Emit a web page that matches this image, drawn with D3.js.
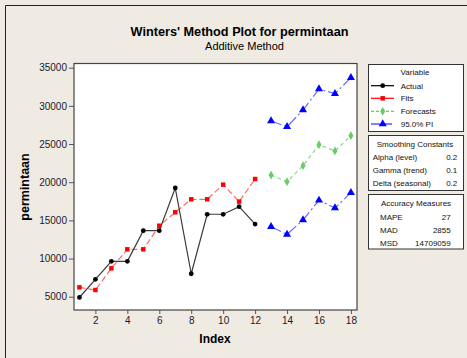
<!DOCTYPE html>
<html><head><meta charset="utf-8">
<script src="https://cdn.jsdelivr.net/npm/d3@7"></script>
<style>body{margin:0;background:#EFEBE2;}svg{display:block;font-family:"Liberation Sans",Arial,sans-serif;}</style>
</head><body>
<script>
const indexActual = [1,2,3,4,5,6,7,8,9,10,11,12];
const actual = [4900,7280,9640,9640,13650,13650,19240,8010,15800,15800,16790,14520];
const fits = [6230,5880,8720,11210,11210,14300,16060,17760,17760,19680,17460,20420];
const indexForecast = [13,14,15,16,17,18];
const forecasts = [20940,20070,22160,24910,24090,26090];
const upperPI = [28020,27270,29460,32210,31600,33690];
const lowerPI = [14170,13170,15050,17630,16620,18630];
const xTicks = [2,4,6,8,10,12,14,16,18];
const yTicks = [5000,10000,15000,20000,25000,30000,35000];
const legendLabels = ["Actual","Fits","Forecasts","95.0% PI"];
const smoothingLabels = ["Alpha (level)","Gamma (trend)","Delta (seasonal)"];
const smoothingValues = ["0.2","0.1","0.2"];
const accuracyLabels = ["MAPE","MAD","MSD"];
const accuracyValues = ["27","2855","14709059"];

const W=467,H=358;
const svg=d3.select("body").append("svg").attr("width",W).attr("height",H);
svg.append("rect").attr("width",W).attr("height",H).attr("fill","#EFEBE2");
svg.append("path").attr("d",`M5.5,${H}V5.5H${W}`).attr("fill","none").attr("stroke","#222").attr("stroke-width",1);

const L=74,R=357,T=63.5,B=310;
const x=d3.scaleLinear().domain([0.66,18.38]).range([L,R]);
const y=d3.scaleLinear().domain([3260,35550]).range([B,T]);

svg.append("rect").attr("x",L).attr("y",T).attr("width",R-L).attr("height",B-T).attr("fill","#fff").attr("stroke","#444").attr("stroke-width",1.2);

// axes
const ya=svg.append("g").attr("transform",`translate(${L},0)`).call(d3.axisLeft(y).tickValues(yTicks).tickSize(5).tickPadding(2).tickFormat(d3.format("d")));
const xa=svg.append("g").attr("transform",`translate(0,${B})`).call(d3.axisBottom(x).tickValues(xTicks).tickSize(4).tickPadding(3));
[ya,xa].forEach(g=>{g.select(".domain").remove();g.selectAll("line").attr("stroke","#555");g.selectAll("text").attr("font-size",10).attr("fill","#1a1a2e").attr("font-family","Liberation Sans, Arial");});

// titles
svg.append("text").attr("x",239.5).attr("y",31.5).attr("dy","0.35em").attr("text-anchor","middle").attr("font-weight","bold").attr("font-size",12.7).text("Winters' Method Plot for permintaan");
svg.append("text").attr("x",244.5).attr("y",46.5).attr("dy","0.35em").attr("text-anchor","middle").attr("font-size",11).text("Additive Method");
svg.append("text").attr("x",215).attr("y",338.5).attr("dy","0.35em").attr("text-anchor","middle").attr("font-weight","bold").attr("font-size",12).text("Index");
svg.append("text").attr("transform","translate(25,187) rotate(-90)").attr("dy","0.35em").attr("text-anchor","middle").attr("font-weight","bold").attr("font-size",12.5).text("permintaan");

const line=d3.line().x(d=>x(d[0])).y(d=>y(d[1]));
const zip=(a,b)=>a.map((v,i)=>[v,b[i]]);
const sActual=zip(indexActual,actual), sFits=zip(indexActual,fits), sF=zip(indexForecast,forecasts), sU=zip(indexForecast,upperPI), sL=zip(indexForecast,lowerPI);

const styles={
 actual:{stroke:"#3a3a3a",dash:null,fill:"#000"},
 fits:{stroke:"#FF6B6B",dash:"6,3",fill:"#FF0000"},
 fc:{stroke:"#8FD88F",dash:"4,3",fill:"#66CC66"},
 pi:{stroke:"#6A6AFF",dash:"11,3,2,3",fill:"#0000FF"}
};
function drawLine(data,s){svg.append("path").attr("d",line(data)).attr("fill","none").attr("stroke",s.stroke).attr("stroke-width",1.2).attr("stroke-dasharray",s.dash);}
drawLine(sFits,styles.fits);drawLine(sActual,styles.actual);drawLine(sF,styles.fc);drawLine(sU,styles.pi);drawLine(sL,styles.pi);

const sym={
 actual:d3.symbol().type(d3.symbolCircle).size(18),
 fits:d3.symbol().type(d3.symbolSquare).size(20),
 fc:d3.symbol().type(d3.symbolDiamond).size(22),
 pi:d3.symbol().type(d3.symbolTriangle).size(28)
};
function drawPts(data,k){svg.append("g").selectAll("path").data(data).join("path").attr("d",sym[k]).attr("transform",d=>`translate(${x(d[0])},${y(d[1])})`).attr("fill",styles[k].fill);}
drawPts(sFits,"fits");drawPts(sActual,"actual");drawPts(sF,"fc");drawPts(sU,"pi");drawPts(sL,"pi");

// legend boxes
const bx=368.5,bw=95;
[[64,67],[135,55],[194,54.5]].forEach(([yy,hh])=>svg.append("rect").attr("x",bx).attr("y",yy+0.5).attr("width",bw).attr("height",hh).attr("fill","#fff").attr("stroke","#333").attr("stroke-width",1));
const fs=8;
function txt(xx,yy,t,anchor){svg.append("text").attr("x",xx).attr("y",yy).attr("dy","0.35em").attr("text-anchor",anchor||"start").attr("font-size",fs).attr("fill","#111").text(t);}
txt(415,72.5,"Variable","middle");
const keys=["actual","fits","fc","pi"], ly=[85.7,98.3,111.3,124];
const legDash={actual:null,fits:null,fc:"3,2",pi:"9,3"};
keys.forEach((k,i)=>{
 svg.append("line").attr("x1",371).attr("x2",394).attr("y1",ly[i]).attr("y2",ly[i]).attr("stroke",k==="actual"?"#000":styles[k].fill).attr("stroke-width",1.2).attr("stroke-dasharray",legDash[k]);
 svg.append("path").attr("d",sym[k]).attr("transform",`translate(382.7,${ly[i]})`).attr("fill",styles[k].fill);
 txt(400.7,ly[i],legendLabels[i]);
});
txt(415,144.3,"Smoothing Constants","middle");
[157.3,170.5,183.3].forEach((yy,i)=>{txt(372.7,yy,smoothingLabels[i]);txt(457.3,yy,smoothingValues[i],"end");});
txt(416,203.3,"Accuracy Measures","middle");
[216.7,229.7,242.7].forEach((yy,i)=>{txt(380,yy,accuracyLabels[i]);txt(450.7,yy,accuracyValues[i],"end");});
</script>
</body></html>
